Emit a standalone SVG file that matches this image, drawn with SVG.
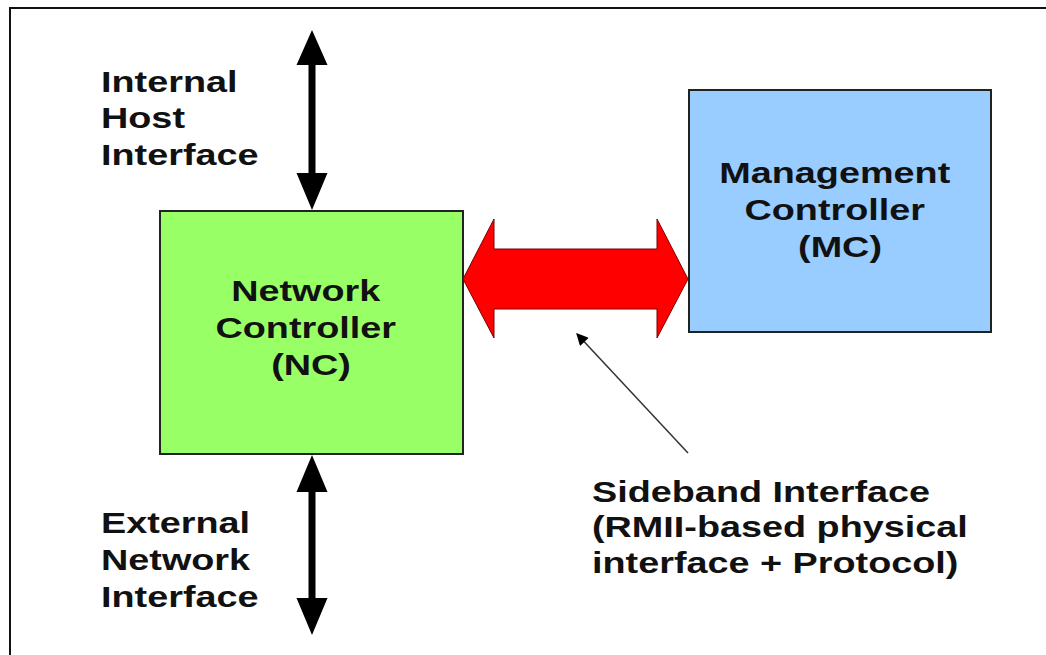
<svg xmlns="http://www.w3.org/2000/svg" width="1046" height="655" viewBox="0 0 1046 655">
  <style>
    .lbl { font-family: "Liberation Sans", Arial, Helvetica, sans-serif; font-weight: bold; font-size: 30px; fill: #111; }
    .mid { text-anchor: middle; }
    .box { stroke: #222; stroke-width: 2; }
    .thick { fill: #000; }
  </style>
  <defs>
    <marker id="head" viewBox="0 0 10 10" refX="9" refY="5" markerWidth="16" markerHeight="12" markerUnits="userSpaceOnUse" orient="auto">
      <path d="M0,0 L10,5 L0,10 z" fill="#000"/>
    </marker>
  </defs>

  <rect width="1046" height="655" fill="#fff"/>

  <!-- page frame: top and left rules only -->
  <g id="frame" stroke="#111" stroke-width="2" fill="none">
    <line x1="9" y1="8" x2="1046" y2="8"/>
    <line x1="10" y1="8" x2="10" y2="655"/>
  </g>

  <g id="nc">
    <rect class="box" x="160" y="211" width="303" height="243" fill="#99ff66"/>
    <text class="lbl mid" transform="translate(311 301) scale(1.26 1)">
      <tspan x="0" y="0">Network</tspan>
      <tspan x="0" y="37">Controller</tspan>
      <tspan x="0" y="74">(NC)</tspan>
    </text>
  </g>

  <g id="mc">
    <rect class="box" x="689" y="90" width="302" height="242" fill="#99ccff"/>
    <text class="lbl mid" transform="translate(840 183) scale(1.26 1)">
      <tspan x="0" y="0">Management</tspan>
      <tspan x="0" y="37">Controller</tspan>
      <tspan x="0" y="74">(MC)</tspan>
    </text>
  </g>

  <g id="host-label">
    <text class="lbl" transform="translate(101 92) scale(1.26 1)">
      <tspan x="0" y="0">Internal</tspan>
      <tspan x="0" y="36.5">Host</tspan>
      <tspan x="0" y="73">Interface</tspan>
    </text>
  </g>

  <g id="network-label">
    <text class="lbl" transform="translate(101 533) scale(1.26 1)">
      <tspan x="0" y="0">External</tspan>
      <tspan x="0" y="37">Network</tspan>
      <tspan x="0" y="74">Interface</tspan>
    </text>
  </g>

  <g id="sideband-label">
    <text class="lbl" transform="translate(592 502) scale(1.26 1)">
      <tspan x="0" y="0">Sideband Interface</tspan>
      <tspan x="0" y="35.5">(RMII-based physical</tspan>
      <tspan x="0" y="71.5">interface + Protocol)</tspan>
    </text>
  </g>

  <g id="connectors">
    <!-- host interface, double-headed -->
    <polygon class="thick" points="312,30 327.5,65 315.5,65 315.5,173 327.5,173 312,210 296.5,173 308.5,173 308.5,65 296.5,65"/>
    <!-- external network interface, double-headed -->
    <polygon class="thick" points="312,455 327.5,492 315.5,492 315.5,598 327.5,598 312,635 296.5,598 308.5,598 308.5,492 296.5,492"/>
    <!-- sideband link between NC and MC -->
    <polygon points="463,279 494,219 494,249 657,249 657,219 688,279 657,338 657,309 494,309 494,338" fill="#ff0000" stroke="#7a0000" stroke-width="1"/>
    <!-- callout pointer -->
    <line x1="688" y1="453" x2="577" y2="334" stroke="#333" stroke-width="1.5" marker-end="url(#head)"/>
  </g>
</svg>
